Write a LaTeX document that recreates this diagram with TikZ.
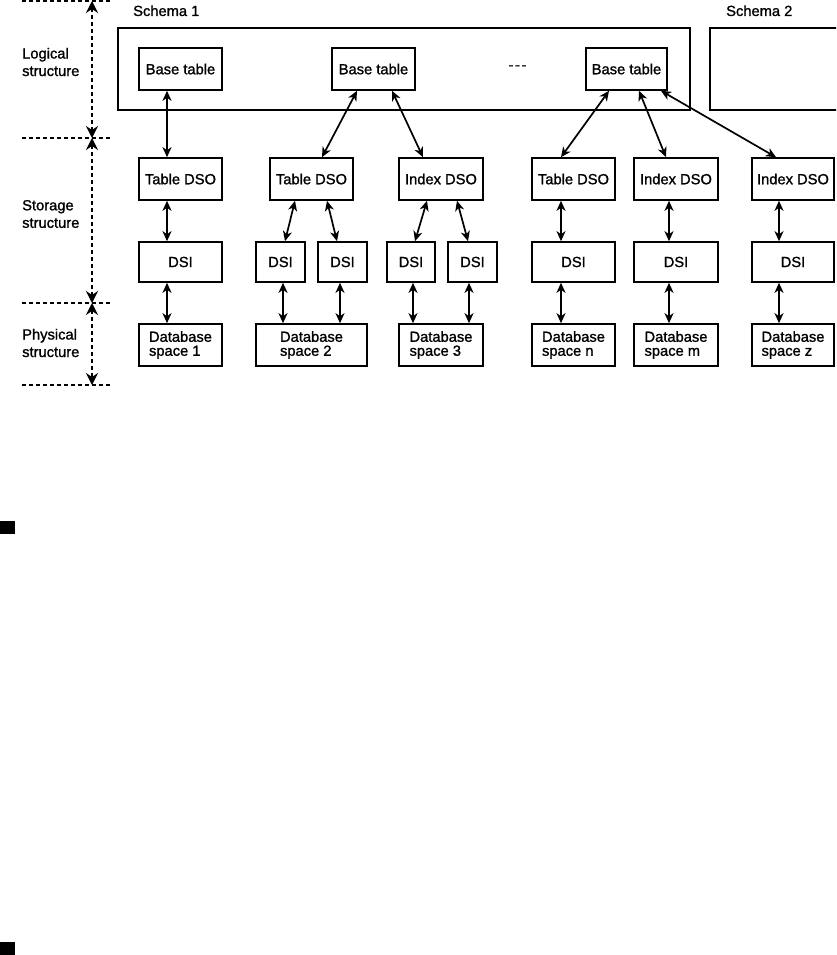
\documentclass[tikz,border=0pt]{standalone}
\usepackage{fontspec}
\setmainfont{Liberation Sans}[FakeBold=1.2]
\usetikzlibrary{arrows.meta,calc}
\newcommand\lblfont{\fontsize{14.7}{17.5}\selectfont}
\newcommand\dbfont{\fontsize{14.7}{14}\selectfont}
\begin{document}
\begin{tikzpicture}[x=1pt,y=-1pt,
  box/.style={draw, line width=1.6pt, inner sep=0pt, font=\lblfont, align=center, minimum height=42pt},
  dbbox/.style={box, font=\dbfont, align=left},
  arr/.style={line width=1.7pt, {Stealth[length=10pt,width=9pt,inset=3pt]}-{Stealth[length=10pt,width=9pt,inset=3pt]}},
  dim/.style={line width=1.8pt, dash pattern=on 4pt off 3pt},
  dimarr/.style={dim, {Stealth[length=12pt,width=12pt,inset=4pt]}-{Stealth[length=12pt,width=12pt,inset=4pt]}},
  lbl/.style={font=\lblfont, align=left, inner sep=0pt, anchor=west},
  sq/.style={fill=black, draw=none}
]
\clip (0,0) rectangle (836,955);

% schema frames
\node[draw, line width=1.6pt, minimum width=572pt, minimum height=82pt, inner sep=0pt] (S1) at (404,69) {};
\node[draw, line width=1.6pt, minimum width=140pt, minimum height=82pt, inner sep=0pt] (S2) at (780,69) {};
\node[font=\lblfont, anchor=base west, inner sep=0pt] (S1t) at (133,16) {Schema 1};
\node[font=\lblfont, anchor=base west, inner sep=0pt] (S2t) at (726,16) {Schema 2};

% left labels
\node[lbl] (Llog) at (22,62) {Logical\\structure};
\node[lbl] (Lsto) at (22,214) {Storage\\structure};
\node[lbl] (Lphy) at (22,343) {Physical\\structure};

% dimension lines
\coordinate (d0) at (92,1);
\coordinate (d1) at (92,138);
\coordinate (d2) at (92,303);
\coordinate (d3) at (92,385);
\coordinate (h0l) at (22,1);   \coordinate (h0r) at (110,1);
\coordinate (h1l) at (22,138); \coordinate (h1r) at (110,138);
\coordinate (h2l) at (22,303); \coordinate (h2r) at (110,303);
\coordinate (h3l) at (22,385); \coordinate (h3r) at (110,385);
\draw[dim] (h0l) -- (h0r);
\draw[dim] (h1l) -- (h1r);
\draw[dim] (h2l) -- (h2r);
\draw[dim] (h3l) -- (h3r);
\draw[dimarr] (d0) -- (d1);
\draw[dimarr] (d1) -- (d2);
\draw[dimarr] (d2) -- (d3);

% base tables
\node[box, minimum width=83pt] (BT1) at (180.5,69) {Base table};
\node[box, minimum width=83pt] (BT2) at (373.5,69) {Base table};
\node[box, minimum width=81pt] (BT3) at (626.5,69) {Base table};
\node[font=\lblfont, inner sep=0pt] (dots) at (517.5,67.5) {-\kern1.5pt-\kern1.5pt-};

% DSO row
\node[box, minimum width=83pt] (TD1) at (180.5,179) {Table DSO};
\node[box, minimum width=83pt] (TD2) at (311.5,179) {Table DSO};
\node[box, minimum width=84pt] (ID1) at (441,179) {Index DSO};
\node[box, minimum width=83pt] (TD3) at (573.5,179) {Table DSO};
\node[box, minimum width=84pt] (ID2) at (676,179) {Index DSO};
\node[box, minimum width=82pt] (ID3) at (793,179) {Index DSO};

% DSI row
\node[box, minimum height=40pt, minimum width=83pt] (DSI1) at (180.5,262) {DSI};
\node[box, minimum height=40pt, minimum width=49pt] (DSI2a) at (280.5,262) {DSI};
\node[box, minimum height=40pt, minimum width=49pt] (DSI2b) at (342.5,262) {DSI};
\node[box, minimum height=40pt, minimum width=48pt] (DSI3a) at (411,262) {DSI};
\node[box, minimum height=40pt, minimum width=49pt] (DSI3b) at (472.5,262) {DSI};
\node[box, minimum height=40pt, minimum width=83pt] (DSIn) at (573.5,262) {DSI};
\node[box, minimum height=40pt, minimum width=84pt] (DSIm) at (676,262) {DSI};
\node[box, minimum height=40pt, minimum width=82pt] (DSIz) at (793,262) {DSI};

% database spaces
\node[dbbox, minimum width=83pt] (DB1) at (180.5,345) {Database\\space 1};
\node[dbbox, minimum width=111pt] (DB2) at (311.5,345) {Database\\space 2};
\node[dbbox, minimum width=84pt] (DB3) at (441,345) {Database\\space 3};
\node[dbbox, minimum width=83pt] (DBn) at (573.5,345) {Database\\space n};
\node[dbbox, minimum width=84pt] (DBm) at (676,345) {Database\\space m};
\node[dbbox, minimum width=82pt] (DBz) at (793,345) {Database\\space z};

% connectors: logical -> DSO
\draw[arr] ([xshift=-13.5pt]BT1.south) -- ([xshift=-13.5pt]TD1.north);
\draw[arr] ([xshift=-16.5pt]BT2.south) -- ([xshift=10.5pt]TD2.north);
\draw[arr] ([xshift=18.5pt]BT2.south) -- ([xshift=-18pt]ID1.north);
\draw[arr] ([xshift=-17.5pt]BT3.south) -- ([xshift=-12.5pt]TD3.north);
\draw[arr] ([xshift=12.5pt]BT3.south) -- ([xshift=-10pt]ID2.north);
\draw[arr] ([xshift=34.5pt]BT3.south) -- ([xshift=-17pt]ID3.north);

% DSO -> DSI
\draw[arr] ([xshift=-13.5pt]TD1.south) -- ([xshift=-13.5pt]DSI1.north);
\draw[arr] ([xshift=-16.5pt]TD2.south) -- ([xshift=4.5pt]DSI2a.north);
\draw[arr] ([xshift=15.5pt]TD2.south) -- ([xshift=-5.5pt]DSI2b.north);
\draw[arr] ([xshift=-14pt]ID1.south) -- ([xshift=4pt]DSI3a.north);
\draw[arr] ([xshift=16pt]ID1.south) -- ([xshift=-4.5pt]DSI3b.north);
\draw[arr] ([xshift=-12.5pt]TD3.south) -- ([xshift=-12.5pt]DSIn.north);
\draw[arr] ([xshift=-7pt]ID2.south) -- ([xshift=-7pt]DSIm.north);
\draw[arr] ([xshift=-14pt]ID3.south) -- ([xshift=-14pt]DSIz.north);

% DSI -> database space
\draw[arr] ([xshift=-13.5pt]DSI1.south) -- ([xshift=-13.5pt]DB1.north);
\draw[arr] ([xshift=2.5pt]DSI2a.south) -- ([xshift=-28.5pt]DB2.north);
\draw[arr] ([xshift=-2.5pt]DSI2b.south) -- ([xshift=28.5pt]DB2.north);
\draw[arr] ([xshift=2pt]DSI3a.south) -- ([xshift=-28pt]DB3.north);
\draw[arr] ([xshift=-3.5pt]DSI3b.south) -- ([xshift=28pt]DB3.north);
\draw[arr] ([xshift=-12.5pt]DSIn.south) -- ([xshift=-12.5pt]DBn.north);
\draw[arr] ([xshift=-7pt]DSIm.south) -- ([xshift=-7pt]DBm.north);
\draw[arr] ([xshift=-14pt]DSIz.south) -- ([xshift=-14pt]DBz.north);

% small black squares at left edge
\fill[sq] (0,521) rectangle (15,534);
\fill[sq] (0,942) rectangle (15,955);
\end{tikzpicture}
\end{document}
